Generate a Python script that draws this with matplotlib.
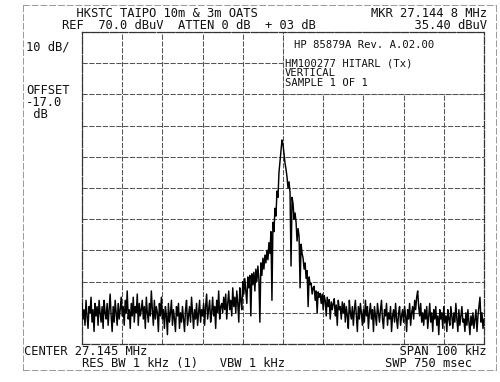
import numpy as np
import matplotlib
matplotlib.use("Agg")
import matplotlib.pyplot as plt
from matplotlib.patches import Rectangle

# ---- data ----
center_mhz = 27.145
span_mhz = 0.100
ref_level = 70.0      # dBuV, top of screen
db_per_div = 10.0

trace_dbuv = [
    # left noise floor
    -17, -22, -19, -24, -16, -21, -25, -18, -20, -15, -23, -19, -26, -17, -21, -18, -24, -16, -20, -23,
    -18, -25, -16, -20, -22, -17, -24, -19, -14, -21, -26, -18, -23, -16, -20, -24, -17, -22, -19, -15,
    -21, -18, -24, -16, -20, -13, -22, -19, -25, -17, -21, -15, -23, -18, -20, -14, -24, -17, -21, -19,
    -16, -22, -18, -25, -15, -20, -23, -17, -21, -13, -19, -24, -16, -22, -18, -20, -26, -17, -21, -15,
    -22, -19, -25, -18, -21, -27, -17, -23, -20, -16, -24, -19, -22, -26, -18, -21, -17, -25, -20, -23,
    -18, -22, -26, -19, -16, -24, -21, -18, -23, -15, -20, -25, -19, -22, -17, -24, -20, -16, -23, -19,
    -21, -17, -24, -18, -14, -22, -19, -16, -23, -20, -15, -21, -18, -25, -16, -20, -13, -22, -18, -17,
    -20, -15, -19, -14, -22, -17, -13, -19, -16, -21, -12, -18, -15, -20, -13, -17, -23, -12, -16, -19,
    # left skirt up to the carrier
    -10, -14, -9, -13, -17, -8.5, -12, -8, -21, -7.5, -11, -7, -13, -6, -10, -5, -9, -23, -4, -8,
    -2.5, -6, -1.5, -4, 0, -3, 2.5, -1, 6, -16, 9, 6, 13.5, 11, 19, 17, 25, 28.5, 32, 35.4,
    # right skirt
    34, 31, 28, 26, 23.5, 20, 22, 18.5, -5, 17, 15, 10, 12, 9, 3, 7, 4.5, -12, 2, -1,
    -2.5, -6, -4, -9, -6.5, -18, -8.5, -11, -10.5, -14, -12, -11.5, -16, -13, -20, -13.3, -15, -13.8, -17, -14,
    -19, -14.5, -16, -21, -15, -18, -15.8, -22, -16.5, -19, -17, -15.5, -21, -17.5, -24, -16, -19, -18, -22, -16.5,
    # right noise floor
    -20, -17, -23, -18, -21, -25, -16, -20, -22, -18, -24, -19, -16, -21, -26, -18, -22, -17, -20, -24,
    -19, -23, -16, -21, -18, -25, -20, -17, -22, -19, -26, -18, -21, -24, -17, -20, -23, -19, -16, -22,
    -25, -19, -21, -17, -24, -20, -22, -18, -26, -21, -19, -23, -17, -22, -25, -20, -18, -24, -21, -19,
    -23, -18, -21, -26, -19, -22, -17, -24, -20, -18, -22, -16, -19, -15, -13, -18, -21, -17, -23, -20,
    -24, -19, -22, -18, -25, -21, -17, -23, -20, -26, -19, -22, -18, -24, -21, -27, -19, -22, -20, -25,
    -18, -23, -21, -26, -19, -22, -24, -18, -21, -25, -20, -23, -17, -22, -26, -19, -24, -21, -18, -23,
    -22, -26, -20, -24, -19, -23, -27, -21, -24, -20, -25, -22, -19, -26, -21, -18, -15, -23, -20, -25,
    -22,
]

header_left = "  HKSTC TAIPO 10m & 3m OATS\nREF  70.0 dBuV  ATTEN 0 dB  + 03 dB"
header_right = "MKR 27.144 8 MHz\n      35.40 dBuV"
scale_label = "10 dB/"
offset_label = "OFFSET\n-17.0\n dB"
box_title = "HP 85879A Rev. A.02.00"
box_lines = "HM100277 HITARL (Tx)\nVERTICAL\nSAMPLE 1 OF 1"
footer_left = "CENTER 27.145 MHz\n        RES BW 1 kHz (1)   VBW 1 kHz"
footer_right = "  SPAN 100 kHz\nSWP 750 msec"

# ---- figure ----
W, H = 500, 382
fig = plt.figure(figsize=(W / 100, H / 100), dpi=100)
fig.patch.set_facecolor("white")

f0 = center_mhz - span_mhz / 2
f1 = center_mhz + span_mhz / 2
bottom = ref_level - 10 * db_per_div
freqs = np.linspace(f0, f1, len(trace_dbuv))

ax = fig.add_axes([82 / W, 1 - 344 / H, 402 / W, 312 / H])
ax.set_xlim(f0, f1)
ax.set_ylim(bottom, ref_level)
ax.set_xticks(np.linspace(f0, f1, 11))
ax.set_yticks(np.arange(bottom, ref_level + 1, db_per_div))
ax.tick_params(length=0, labelbottom=False, labelleft=False)
ax.set_axisbelow(True)
grid_kw = dict(color="#555555", linewidth=0.75, linestyle=(0, (5, 1.5)))
ax.grid(True, **grid_kw)
for s in ax.spines.values():
    s.set_color("#333333")
    s.set_linewidth(0.9)
    s.set_linestyle((0, (6, 1.5)))

# annotation box in the upper right of the graticule
ax.add_patch(Rectangle((center_mhz, ref_level - 2 * db_per_div), span_mhz / 2, 2 * db_per_div,
                       facecolor="white", edgecolor="#555555", linewidth=0.75,
                       linestyle=(0, (5, 1.5)), zorder=1))

ax.plot(freqs, trace_dbuv, color="black", linewidth=1.05, zorder=3)

mono = "DejaVu Sans Mono"
fs = 8.7
fsb = 7.6

def ptxt(x, y, s, size=fs, ha="left", ls=0.9):
    fig.text(x / W, 1 - y / H, s, fontsize=size, family=mono, ha=ha, va="center",
             multialignment="left", linespacing=ls, color="#111111")

ptxt(62, 19.5, header_left)
ptxt(487, 19.5, header_right, ha="right")

ptxt(26, 47, scale_label)
ptxt(26, 103, offset_label)

ptxt(294, 45, box_title, size=fsb)
ptxt(285, 73, box_lines, size=fsb, ls=0.95)

ptxt(24, 357.5, footer_left)
ptxt(385, 357.5, footer_right)

# faint outer frame
frame = fig.add_axes([23 / W, 1 - 370 / H, 473 / W, 365 / H])
frame.set_zorder(-1)
frame.patch.set_alpha(0)
frame.set_xticks([])
frame.set_yticks([])
for s in frame.spines.values():
    s.set_color("#9a9a9a")
    s.set_linewidth(0.7)
    s.set_linestyle((0, (6, 3)))

fig.savefig("out.png", dpi=100, facecolor="white")
